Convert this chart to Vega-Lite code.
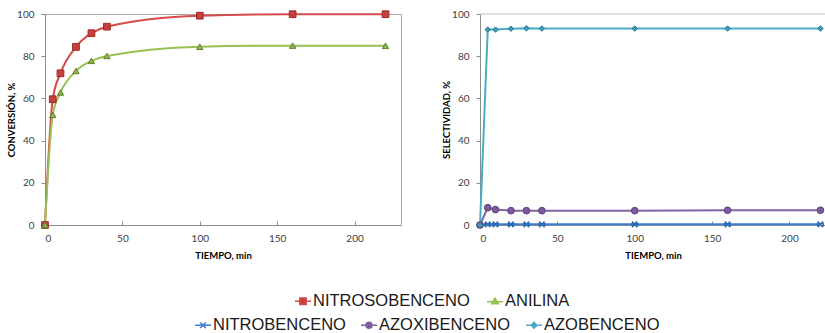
{
  "$schema": "https://vega.github.io/schema/vega-lite/v6.json",
  "background": "white",
  "padding": {"left": 6, "top": 8, "right": 0, "bottom": 0},
  "bounds": "flush",
  "spacing": 79,
  "config": {
    "view": {"stroke": null},
    "font": "Lato",
    "axis": {
      "grid": false,
      "domainColor": "#8C8C8C",
      "tickColor": "#8C8C8C",
      "labelColor": "#404040",
      "labelFont": "Lato",
      "labelFontSize": 10,
      "titleFont": "Lato",
      "titleFontSize": 9.5,
      "titleFontWeight": "bold",
      "titleColor": "#000000"
    }
  },
  "datasets": {
    "conv": [
      {"t": 0, "serie": "NITROSOBENCENO", "v": 0},
      {"t": 5, "serie": "NITROSOBENCENO", "v": 59.6},
      {"t": 10, "serie": "NITROSOBENCENO", "v": 71.9},
      {"t": 20, "serie": "NITROSOBENCENO", "v": 84.4},
      {"t": 30, "serie": "NITROSOBENCENO", "v": 90.9},
      {"t": 40, "serie": "NITROSOBENCENO", "v": 94.0},
      {"t": 100, "serie": "NITROSOBENCENO", "v": 99.2},
      {"t": 160, "serie": "NITROSOBENCENO", "v": 99.9},
      {"t": 220, "serie": "NITROSOBENCENO", "v": 99.9},
      {"t": 0, "serie": "ANILINA", "v": 0},
      {"t": 5, "serie": "ANILINA", "v": 52.2},
      {"t": 10, "serie": "ANILINA", "v": 62.8},
      {"t": 20, "serie": "ANILINA", "v": 73.0},
      {"t": 30, "serie": "ANILINA", "v": 77.8},
      {"t": 40, "serie": "ANILINA", "v": 80.1},
      {"t": 100, "serie": "ANILINA", "v": 84.5},
      {"t": 160, "serie": "ANILINA", "v": 85.0},
      {"t": 220, "serie": "ANILINA", "v": 84.9}
    ],
    "sel": [
      {"t": 0, "serie": "NITROBENCENO", "v": 0},
      {"t": 5, "serie": "NITROBENCENO", "v": 0.3},
      {"t": 10, "serie": "NITROBENCENO", "v": 0.3},
      {"t": 20, "serie": "NITROBENCENO", "v": 0.3},
      {"t": 30, "serie": "NITROBENCENO", "v": 0.3},
      {"t": 40, "serie": "NITROBENCENO", "v": 0.3},
      {"t": 100, "serie": "NITROBENCENO", "v": 0.3},
      {"t": 160, "serie": "NITROBENCENO", "v": 0.3},
      {"t": 220, "serie": "NITROBENCENO", "v": 0.3},
      {"t": 0, "serie": "AZOXIBENCENO", "v": 0},
      {"t": 5, "serie": "AZOXIBENCENO", "v": 8.2},
      {"t": 10, "serie": "AZOXIBENCENO", "v": 7.3},
      {"t": 20, "serie": "AZOXIBENCENO", "v": 6.8},
      {"t": 30, "serie": "AZOXIBENCENO", "v": 6.8},
      {"t": 40, "serie": "AZOXIBENCENO", "v": 6.8},
      {"t": 100, "serie": "AZOXIBENCENO", "v": 6.8},
      {"t": 160, "serie": "AZOXIBENCENO", "v": 7.0},
      {"t": 220, "serie": "AZOXIBENCENO", "v": 7.0},
      {"t": 0, "serie": "AZOBENCENO", "v": 0},
      {"t": 5, "serie": "AZOBENCENO", "v": 92.6},
      {"t": 10, "serie": "AZOBENCENO", "v": 92.6},
      {"t": 20, "serie": "AZOBENCENO", "v": 93.0},
      {"t": 30, "serie": "AZOBENCENO", "v": 93.2},
      {"t": 40, "serie": "AZOBENCENO", "v": 93.1},
      {"t": 100, "serie": "AZOBENCENO", "v": 93.1},
      {"t": 160, "serie": "AZOBENCENO", "v": 93.1},
      {"t": 220, "serie": "AZOBENCENO", "v": 93.1}
    ]
  },
  "resolve": {"scale": {"color": "independent", "stroke": "independent"}},
  "hconcat": [
    {
      "width": 356,
      "height": 211,
      "data": {"name": "conv"},
      "view": {"stroke": "#A6A6A6", "strokeWidth": 1},
      "encoding": {
        "x": {"field": "t", "type": "quantitative", "scale": {"domain": [0, 230], "nice": false},
          "axis": {"values": [0, 50, 100, 150, 200], "title": "TIEMPO, min", "tickSize": -4, "labelPadding": 12, "titlePadding": 7}},
        "y": {"field": "v", "type": "quantitative", "scale": {"domain": [0, 100], "nice": false},
          "axis": {"values": [0, 20, 40, 60, 80, 100], "title": "CONVERSIÓN, %", "tickSize": 4, "labelPadding": 7, "titlePadding": 0}}
      },
      "layer": [
        {
          "mark": {"type": "line", "interpolate": "monotone", "strokeWidth": 2},
          "encoding": {
            "color": {"field": "serie", "type": "nominal",
              "scale": {"domain": ["NITROSOBENCENO", "ANILINA"], "range": ["#D64B49", "#98C153"]},
              "legend": {
                "orient": "none", "legendX": 249, "legendY": 278, "direction": "horizontal",
                "title": null, "padding": 0, "symbolSize": 256, "symbolStrokeWidth": 1.5,
                "labelFont": "Liberation Sans", "labelFontSize": 16.5, "labelColor": "#1A1A1A",
                "labelOffset": 1, "columnPadding": 14,
                "encode": {"symbols": {"update": {
                  "shape": {"signal": "datum.value === 'NITROSOBENCENO' ? 'M-1,0H-0.4M0.4,0H1M-0.4,-0.4H0.4V0.4H-0.4Z' : 'M-1,0.05H1M0,-0.4L0.42,0.32H-0.42Z'"},
                  "fill": {"signal": "datum.value === 'NITROSOBENCENO' ? '#C8403D' : '#8DB94A'"},
                  "stroke": {"signal": "datum.value === 'NITROSOBENCENO' ? '#D64B49' : '#98C153'"},
                  "opacity": {"value": 1}
                }}}
              }}
          }
        },
        {
          "transform": [{"filter": "datum.serie === 'NITROSOBENCENO'"}],
          "mark": {"type": "point", "shape": "square", "filled": true, "size": 45, "strokeWidth": 1, "opacity": 1, "fill": "#C8403D", "stroke": "#9A2A28"},
          "encoding": {}
        },
        {
          "transform": [{"filter": "datum.serie === 'ANILINA'"}],
          "mark": {"type": "point", "shape": "triangle-up", "filled": true, "size": 40, "strokeWidth": 1, "opacity": 1, "fill": "#8DB94A", "stroke": "#5E7E2E"},
          "encoding": {}
        }
      ]
    },
    {
      "width": 346,
      "height": 211,
      "data": {"name": "sel"},
      "view": {"stroke": null},
      "encoding": {
        "x": {"field": "t", "type": "quantitative", "scale": {"domain": [0, 223.6], "nice": false},
          "axis": {"values": [0, 50, 100, 150, 200], "title": "TIEMPO, min", "tickSize": -4, "labelPadding": 12, "titlePadding": 7}},
        "y": {"field": "v", "type": "quantitative", "scale": {"domain": [0, 100], "nice": false},
          "axis": {"values": [0, 20, 40, 60, 80, 100], "title": "SELECTIVIDAD, %", "tickSize": 4, "labelPadding": 7, "titlePadding": 0}}
      },
      "layer": [
        {
          "mark": {"type": "rule", "color": "#BFBFBF", "strokeWidth": 1},
          "data": {"values": [{"top": 100}]},
          "encoding": {"y": {"field": "top", "type": "quantitative"}, "x": null}
        },
        {
          "mark": {"type": "line", "strokeWidth": 2},
          "encoding": {
            "color": {"field": "serie", "type": "nominal",
              "scale": {"domain": ["NITROBENCENO", "AZOXIBENCENO", "AZOBENCENO"], "range": ["#3B7FD0", "#8064A2", "#4BACC6"]},
              "legend": {
                "orient": "none", "legendX": -286, "legendY": 302, "direction": "horizontal",
                "title": null, "padding": 0, "symbolSize": 256, "symbolStrokeWidth": 1.5,
                "labelFont": "Liberation Sans", "labelFontSize": 16.5, "labelColor": "#1A1A1A",
                "labelOffset": 1, "columnPadding": 12,
                "encode": {"symbols": {"update": {
                  "shape": {"signal": "datum.value === 'NITROBENCENO' ? 'M-1,0H1M-0.35,-0.35L0.35,0.35M-0.35,0.35L0.35,-0.35' : datum.value === 'AZOXIBENCENO' ? 'M-1,0H1M0.38,0A0.38,0.38,0,1,1,-0.38,0A0.38,0.38,0,1,1,0.38,0Z' : 'M-1,0H1M0,-0.36L0.36,0L0,0.36L-0.36,0Z'"},
                  "fill": {"signal": "datum.value === 'NITROBENCENO' ? '#3B7FD0' : datum.value === 'AZOXIBENCENO' ? '#7A5C9E' : '#3D9DB8'"},
                  "stroke": {"signal": "datum.value === 'NITROBENCENO' ? '#3B7FD0' : datum.value === 'AZOXIBENCENO' ? '#8064A2' : '#4BACC6'"},
                  "opacity": {"value": 1}
                }}}
              }}
          }
        },
        {
          "transform": [{"filter": "datum.serie === 'NITROBENCENO'"}],
          "mark": {"type": "point", "shape": "M-1,-1L1,1M-1,1L1,-1M-1,-0.5V0.5M1,-0.5V0.5", "filled": false, "size": 30, "strokeWidth": 1.6, "opacity": 1, "stroke": "#2E68B0"},
          "encoding": {}
        },
        {
          "transform": [{"filter": "datum.serie === 'AZOXIBENCENO'"}],
          "mark": {"type": "point", "shape": "circle", "filled": true, "size": 45, "strokeWidth": 1, "opacity": 1, "fill": "#7A5C9E", "stroke": "#5B437D"},
          "encoding": {}
        },
        {
          "transform": [{"filter": "datum.serie === 'AZOBENCENO'"}],
          "mark": {"type": "point", "shape": "diamond", "filled": true, "size": 30, "strokeWidth": 1, "opacity": 1, "fill": "#3D9DB8", "stroke": "#2C7A90"},
          "encoding": {}
        }
      ]
    }
  ]
}
